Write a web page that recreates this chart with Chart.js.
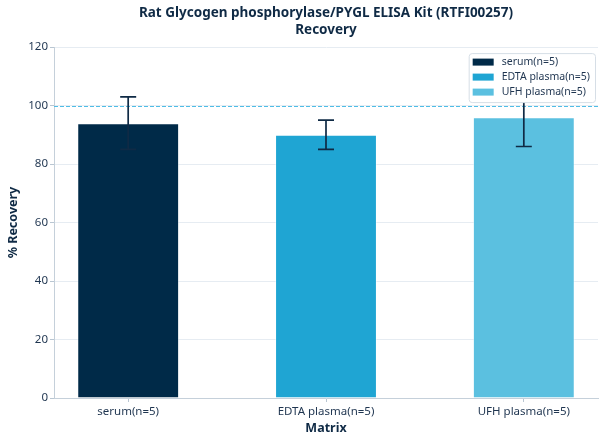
<!DOCTYPE html>
<html>
<head>
<meta charset="utf-8">
<script src="https://cdn.jsdelivr.net/npm/chart.js@4.4.1/dist/chart.umd.min.js"></script>
<style>
  html, body { margin: 0; padding: 0; background: #ffffff; }
  #wrap { width: 608px; height: 444px; }
</style>
</head>
<body>
<div id="wrap"><canvas id="chart" width="608" height="444"></canvas></div>
<script>
// Data
const categories = ['serum(n=5)', 'EDTA plasma(n=5)', 'UFH plasma(n=5)'];
const recovery = [94, 90, 96];
const errors = [9, 5, 10];
const barColors = ['#002a48', '#1fa5d3', '#5bc0e0'];
const yTicks = [0, 20, 40, 60, 80, 100, 120];
const referenceValue = 100;

const textColor = '#1f3550';
const titleColor = '#0f2a45';
const fontFamily = '"Noto Sans", "Open Sans", sans-serif';

// one dataset per matrix so each gets its own legend entry
const datasets = categories.map((cat, i) => ({
    label: cat,
    data: [{ x: i, y: recovery[i] }],
    backgroundColor: barColors[i],
    borderColor: 'rgba(255,255,255,0.45)',
    borderWidth: 1,
    grouped: false,
    categoryPercentage: 1,
    barPercentage: 0.515
}));

// Reference line + error bars
const overlayPlugin = {
    id: 'overlay',
    afterDatasetsDraw(chart) {
        const ctx = chart.ctx;
        const area = chart.chartArea;
        const y = chart.scales.y;

        // dashed 100% line
        const yRef = Math.round(y.getPixelForValue(referenceValue)) + 0.5;
        ctx.save();
        ctx.strokeStyle = '#4fbde6';
        ctx.lineWidth = 1;
        ctx.setLineDash([4, 2]);
        ctx.beginPath();
        ctx.moveTo(area.left, yRef);
        ctx.lineTo(area.right, yRef);
        ctx.stroke();
        ctx.restore();

        // error bars
        ctx.save();
        ctx.strokeStyle = '#0f2a45';
        ctx.lineWidth = 1.7;
        chart.data.datasets.forEach((ds, i) => {
            const bar = chart.getDatasetMeta(i).data[0];
            if (!bar) return;
            const x = bar.x;
            const top = y.getPixelForValue(recovery[i] + errors[i]);
            const bottom = y.getPixelForValue(recovery[i] - errors[i]);
            ctx.beginPath();
            ctx.moveTo(x, top);
            ctx.lineTo(x, bottom);
            ctx.moveTo(x - 8, top);
            ctx.lineTo(x + 8, top);
            ctx.moveTo(x - 8, bottom);
            ctx.lineTo(x + 8, bottom);
            ctx.stroke();
        });
        ctx.restore();
    },
    afterDraw(chart) {
        // legend inside the plot, upper right
        const ctx = chart.ctx;
        const area = chart.chartArea;
        const rowH = 15;
        const padX = 4;
        ctx.save();
        ctx.font = '10.5px ' + fontFamily;
        const textW = Math.max(...chart.data.datasets.map(d => ctx.measureText(d.label).width));
        const boxW = padX + 21 + 8 + textW + 5;
        const boxH = chart.data.datasets.length * rowH + 4;
        const bx = area.right - 3 - boxW;
        const by = area.top + 6;

        ctx.beginPath();
        ctx.roundRect(bx + 0.5, by + 0.5, boxW, boxH, 3);
        ctx.fillStyle = '#ffffff';
        ctx.fill();
        ctx.strokeStyle = '#d6dee6';
        ctx.lineWidth = 1;
        ctx.stroke();

        ctx.textBaseline = 'middle';
        ctx.textAlign = 'left';
        chart.data.datasets.forEach((d, i) => {
            const cy = by + 9 + i * rowH;
            ctx.fillStyle = d.backgroundColor;
            ctx.fillRect(bx + padX, cy - 3.5, 21, 7);
            ctx.fillStyle = textColor;
            ctx.fillText(d.label, bx + padX + 29, cy);
        });
        ctx.restore();
    }
};

new Chart(document.getElementById('chart'), {
    type: 'bar',
    data: { datasets },
    options: {
        responsive: false,
        animation: false,
        devicePixelRatio: 1,
        layout: { padding: { left: 0, right: 10, top: 0, bottom: 0 } },
        plugins: {
            legend: { display: false },
            tooltip: { enabled: false },
            title: {
                display: true,
                fullSize: false,
                text: ['Rat Glycogen phosphorylase/PYGL ELISA Kit (RTFI00257)', 'Recovery'],
                color: titleColor,
                font: { family: fontFamily, size: 13.5, weight: 'bold', lineHeight: 1.3 },
                padding: { top: 4, bottom: 8 }
            }
        },
        scales: {
            x: {
                type: 'linear',
                min: -0.375,
                max: 2.375,
                offset: false,
                afterBuildTicks(scale) {
                    scale.ticks = categories.map((c, i) => ({ value: i }));
                },
                afterFit(scale) { scale.height = 46; },
                ticks: {
                    callback: (v) => categories[v],
                    color: textColor,
                    font: { family: fontFamily, size: 11.5 },
                    padding: 3,
                    maxRotation: 0,
                    autoSkip: false
                },
                grid: {
                    offset: false,
                    drawOnChartArea: false,
                    tickLength: 4,
                    tickColor: '#b9c6d2'
                },
                border: { color: '#c5d0da', width: 1 },
                title: {
                    display: true,
                    text: 'Matrix',
                    color: titleColor,
                    font: { family: fontFamily, size: 12.5, weight: 'bold' },
                    padding: { top: 0, bottom: 8 }
                }
            },
            y: {
                min: 0,
                max: 120,
                afterBuildTicks(scale) {
                    scale.ticks = yTicks.map(v => ({ value: v }));
                },
                afterFit(scale) { scale.width = 54; },
                ticks: {
                    color: textColor,
                    font: { family: fontFamily, size: 11.5 },
                    padding: 2
                },
                grid: {
                    color: '#e6ecf2',
                    tickLength: 4,
                    tickColor: '#b9c6d2'
                },
                border: { color: '#c5d0da', width: 1 },
                title: {
                    display: true,
                    text: '% Recovery',
                    color: titleColor,
                    font: { family: fontFamily, size: 12.5, weight: 'bold' },
                    padding: { top: 6, bottom: 0 }
                }
            }
        }
    },
    plugins: [overlayPlugin]
});
</script>
</body>
</html>
